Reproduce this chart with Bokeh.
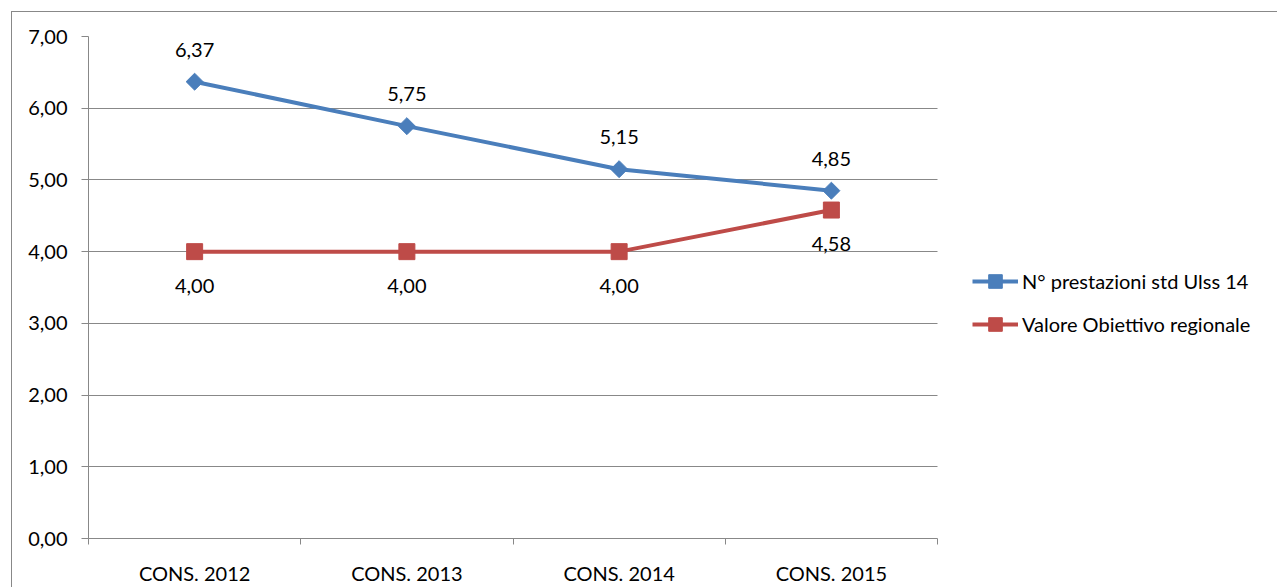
from bokeh.plotting import figure
from bokeh.models import (ColumnDataSource, FixedTicker, Legend, LegendItem,
                          LabelSet, Range1d, InlineStyleSheet)
from bokeh.core.properties import value
from bokeh.embed import file_html
from bokeh.resources import INLINE
import math

# ---- data ----
categories = ["CONS. 2012", "CONS. 2013", "CONS. 2014", "CONS. 2015"]
blue_name = "N° prestazioni std Ulss 14"
red_name = "Valore Obiettivo regionale"
blue_values = [6.37, 5.75, 5.15, 4.85]
red_values = [4.00, 4.00, 4.00, 4.58]
y_ticks = [0, 1, 2, 3, 4, 5, 6, 7]
y_tick_labels = ["0,00", "1,00", "2,00", "3,00", "4,00", "5,00", "6,00", "7,00"]

def fmt(v):
    return f"{v:.2f}".replace(".", ",")

FONT = "Lato"
FS = "20px"
GRID = "#888888"
BLUE = "#4A7EBB"
RED = "#BE4B48"

n = len(categories)
xs = [i + 0.5 for i in range(n)]
src_b = ColumnDataSource(dict(x=xs, y=blue_values, lab=[fmt(v) for v in blue_values]))
src_r = ColumnDataSource(dict(x=xs, y=red_values, lab=[fmt(v) for v in red_values]))

W, H = 1266, 576
LEFT, PLOT_W = 76, 849          # pixel layout of the category area
FRAME_W = W - LEFT              # frame runs to the right edge (legend lives inside)
p = figure(width=W, height=H, output_backend="svg", toolbar_location=None,
           x_range=Range1d(0, n * FRAME_W / PLOT_W), y_range=Range1d(0, 7),
           min_border_left=LEFT, min_border_top=24, min_border_bottom=50,
           min_border_right=0)
p.margin = (11, 0, 0, 11)
p.stylesheets = [InlineStyleSheet(css=":host { border-left: 1px solid #888888 !important; "
                                      "border-top: 1px solid #888888 !important; }")]
p.outline_line_color = None
p.background_fill_color = "white"
p.border_fill_color = "white"

# y axis
p.yaxis.ticker = FixedTicker(ticks=y_ticks)
p.yaxis.major_label_overrides = {t: l for t, l in zip(y_ticks, y_tick_labels)}
p.yaxis.axis_line_color = GRID
p.yaxis.major_tick_line_color = GRID
p.yaxis.major_tick_out = 7
p.yaxis.major_tick_in = 0
p.yaxis.minor_tick_line_color = None
p.yaxis.major_label_standoff = 14
p.yaxis.major_label_text_font = FONT
p.yaxis.major_label_text_font_size = FS
p.yaxis.major_label_text_color = "black"

# x axis
p.xaxis.bounds = (0, n)
p.xaxis.ticker = FixedTicker(ticks=xs, minor_ticks=list(range(n + 1)))
p.xaxis.major_label_overrides = {x: c for x, c in zip(xs, categories)}
p.xaxis.axis_line_color = GRID
p.xaxis.major_tick_line_color = None
p.xaxis.major_tick_out = 0
p.xaxis.major_tick_in = 0
p.xaxis.minor_tick_line_color = GRID
p.xaxis.minor_tick_out = 6
p.xaxis.minor_tick_in = 0
p.xaxis.major_label_standoff = 16
p.xaxis.major_label_text_font = FONT
p.xaxis.major_label_text_font_size = FS
p.xaxis.major_label_text_color = "black"

p.xgrid.grid_line_color = None
p.ygrid.ticker = FixedTicker(ticks=y_ticks)
p.ygrid.grid_line_color = GRID
p.ygrid.grid_line_width = 1
try:
    p.ygrid.cross_bounds = (0, n)
except Exception:
    pass

# series
lb = p.line("x", "y", source=src_b, line_color=BLUE, line_width=4)
mb = p.scatter("x", "y", source=src_b, marker="square", size=12, angle=math.pi / 4,
               fill_color=BLUE, line_color=BLUE)
lr = p.line("x", "y", source=src_r, line_color=RED, line_width=4)
mr = p.scatter("x", "y", source=src_r, marker="square", size=16,
               fill_color=RED, line_color=RED)

# data labels
p.add_layout(LabelSet(x="x", y="y", text="lab", source=src_b, y_offset=32,
                      text_align="center", text_baseline="middle",
                      text_font=value(FONT), text_font_size=value(FS),
                      text_color="black"))
p.add_layout(LabelSet(x="x", y="y", text="lab", source=src_r, y_offset=-34,
                      text_align="center", text_baseline="middle",
                      text_font=value(FONT), text_font_size=value(FS),
                      text_color="black"))

legend = Legend(items=[LegendItem(label=blue_name, renderers=[lb, mb]),
                       LegendItem(label=red_name, renderers=[lr, mr])],
                location=(884, 197), padding=0, margin=0, spacing=9,
                glyph_width=46, glyph_height=34, label_height=34,
                label_standoff=4, border_line_color=None,
                background_fill_alpha=0,
                label_text_font=FONT, label_text_font_size=FS,
                label_text_color="black")
p.add_layout(legend, "center")

open("out.html", "w").write(file_html(p, INLINE))
